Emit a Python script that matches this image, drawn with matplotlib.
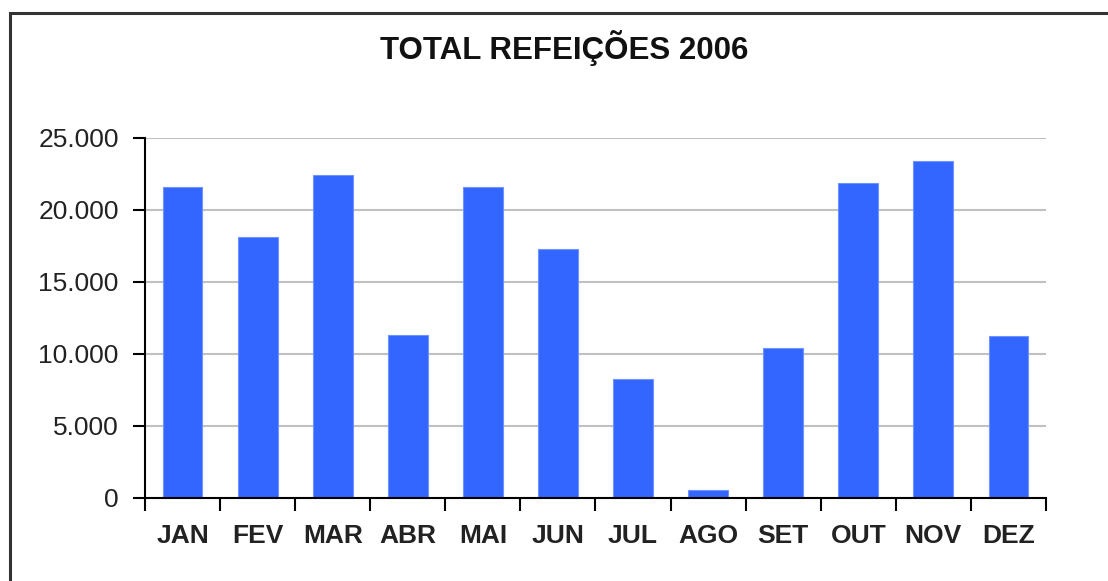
import matplotlib
matplotlib.use("Agg")
import matplotlib.pyplot as plt
from matplotlib.ticker import FuncFormatter
from matplotlib.patches import Rectangle

meses = ["JAN", "FEV", "MAR", "ABR", "MAI", "JUN", "JUL", "AGO", "SET", "OUT", "NOV", "DEZ"]
refeicoes = [21600, 18120, 22430, 11320, 21600, 17290, 8240, 580, 10440, 21850, 23380, 11270]
yticks = [0, 5000, 10000, 15000, 20000, 25000]

plt.rcParams['font.family'] = ['Liberation Sans', 'DejaVu Sans']

fig = plt.figure(figsize=(11.08, 5.81), dpi=100)
ax = fig.add_axes([0.1309, 0.1429, 0.8131, 0.6196])

x = list(range(len(meses)))
ax.bar(x, refeicoes, width=0.53, color="#3366ff", edgecolor="#6f93ff", linewidth=0.8, zorder=3)

ax.set_xlim(-0.5, len(meses) - 0.5)
ax.set_ylim(0, 25000)
ax.set_yticks(yticks)
ax.yaxis.set_major_formatter(FuncFormatter(lambda v, p: f"{int(v):,}".replace(",", ".")))
ax.tick_params(axis="y", length=9, width=1.5, pad=10, labelsize=19, labelcolor="#222222")

ax.set_xticks(x)
ax.set_xticklabels(meses, fontweight="bold", fontsize=19)
ax.set_xticks([i - 0.5 for i in range(len(meses) + 1)], minor=True)
ax.tick_params(axis="x", which="major", length=0, pad=19, labelcolor="#222222")
ax.tick_params(axis="x", which="minor", length=9, width=1.5)

for v in yticks[1:]:
    ax.axhline(v, color="#c0c0c0", linewidth=1.5, zorder=1)

for s in ["top", "right"]:
    ax.spines[s].set_visible(False)
for s in ["left", "bottom"]:
    ax.spines[s].set_linewidth(1.5)
    ax.spines[s].set_zorder(4)

fig.text(0.509, 0.918, "TOTAL REFEIÇÕES 2006", ha="center", va="center",
         fontsize=22.5, fontweight="bold", color="#111111")

# moldura (só lados de cima e da esquerda ficam visíveis)
fig.patches.append(Rectangle((10 / 1108, -0.1), 1.2, 1.1 - 13 / 581, transform=fig.transFigure,
                             fill=False, edgecolor="#333333", linewidth=2.2))

fig.savefig("out.png", dpi=100)
